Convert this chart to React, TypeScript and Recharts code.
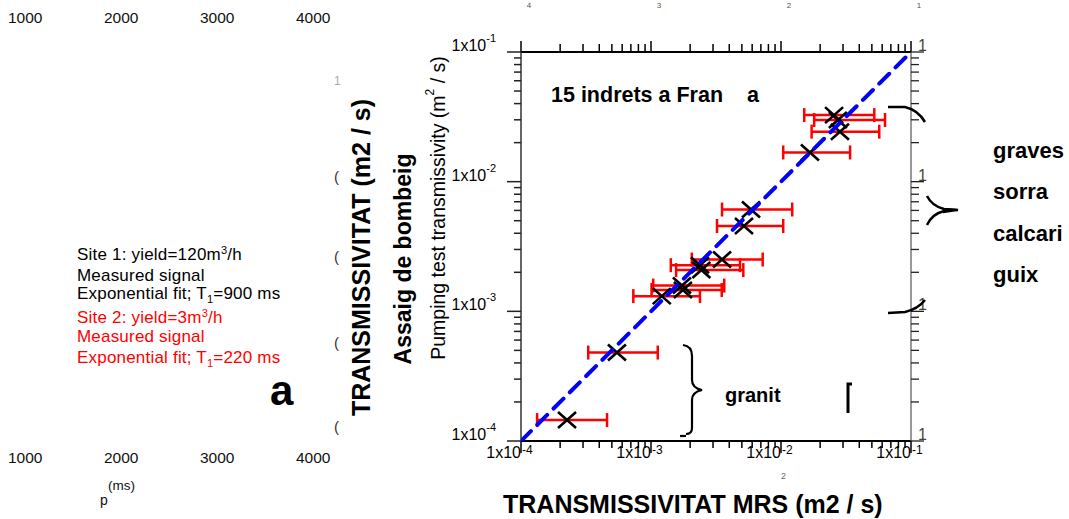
import React from "react";
import { ScatterChart, Scatter, XAxis, YAxis, ErrorBar } from "recharts";

// MRS transmissivity (x) vs pumping test transmissivity (y), m2/s
const mrsT = [2.26e-4, 5.47e-4, 1.21e-3, 1.76e-3, 1.73e-3, 2.44e-3, 2.38e-3, 3.52e-3, 5.19e-3, 5.88e-3, 1.67e-2, 2.84e-2, 2.74e-2, 2.56e-2];
const pumpT = [1.45e-4, 4.81e-4, 1.31e-3, 1.46e-3, 1.58e-3, 2.08e-3, 2.27e-3, 2.51e-3, 4.55e-3, 6.1e-3, 1.68e-2, 2.43e-2, 2.99e-2, 3.26e-2];
const mrsLow = [1.33e-4, 3.29e-4, 7.31e-4, 1.01e-3, 1.04e-3, 1.56e-3, 1.42e-3, 2.06e-3, 3.22e-3, 3.52e-3, 1.04e-2, 1.72e-2, 1.8e-2, 1.51e-2];
const mrsHigh = [4.59e-4, 1.127e-3, 2.38e-3, 3.5e-3, 3.66e-3, 5.13e-3, 4.84e-3, 7.23e-3, 1.04e-2, 1.22e-2, 3.4e-2, 5.7e-2, 6.31e-2, 5.22e-2];

// 1:1 line
const fitX = [1e-4, 1e-1];
const fitY = [1e-4, 1e-1];

const DOMAIN: [number, number] = [1e-4, 1e-1];
const decades = [-4, -3, -2];
const logTicks = [
  ...decades.flatMap((d) => [1, 2, 3, 4, 5, 6, 7, 8, 9].map((m) => m * Math.pow(10, d))),
  1e-1,
];

const leftLines = [
  "Site 1: yield=120m|3|/h",
  "Measured signal",
  "Exponential fit; T_1_=900 ms",
  "Site 2: yield=3m|3|/h",
  "Measured signal",
  "Exponential fit; T_1_=220 ms",
];
const rockLabels = ["graves", "sorra", "calcari", "guix"];
const msTicks = ["1000", "2000", "3000", "4000"];

const points = mrsT.map((x, i) => ({
  x,
  y: pumpT[i],
  err: [x - mrsLow[i], mrsHigh[i] - x],
}));
const fitData = fitX.map((x, i) => ({ x, y: fitY[i] }));

const FONT = "'Liberation Sans', Arial, sans-serif";

const isMajor = (v: number) => {
  const l = Math.log10(v);
  return Math.abs(l - Math.round(l)) < 1e-6;
};
const expOf = (v: number) => Math.round(Math.log10(v));

const BottomTick = (p: any) => {
  const { x, y, payload } = p;
  const major = isMajor(payload.value);
  return (
    <g>
      <line x1={x} y1={y} x2={x} y2={y + (major ? 12 : 7)} stroke="#000" strokeWidth={1.5} />
      {major && (
        <>
          <text x={x} y={y + 17} textAnchor="end" fontSize={16} fontFamily={FONT} fill="#000">1x10</text>
          <text x={x + 1} y={y + 13} textAnchor="start" fontSize={12} fontFamily={FONT} fill="#000">{expOf(payload.value)}</text>
        </>
      )}
    </g>
  );
};

const TopTick = (p: any) => {
  const { x, y, payload } = p;
  const major = isMajor(payload.value);
  return (
    <g>
      <line x1={x} y1={y} x2={x} y2={y - (major ? 11 : 8)} stroke="#000" strokeWidth={1.5} />
      {major && (
        <text x={x + 8} y={y - 44} textAnchor="middle" fontSize={8} fontFamily={FONT} fill="#555">
          {Math.abs(expOf(payload.value))}
        </text>
      )}
    </g>
  );
};

const LeftTick = (p: any) => {
  const { x, y, payload } = p;
  const major = isMajor(payload.value);
  return (
    <g>
      <line x1={x} y1={y} x2={x - (major ? 14 : 7)} y2={y} stroke="#222" strokeWidth={1.5} />
      {major && (
        <text x={x - 25} y={y - 1} textAnchor="end" fontSize={16} fontFamily={FONT} fill="#000">
          1x10<tspan dy={-9} fontSize={11}>{expOf(payload.value)}</tspan>
        </text>
      )}
    </g>
  );
};

const RightTick = (p: any) => {
  const { x, y, payload } = p;
  const major = isMajor(payload.value);
  return (
    <g>
      <line x1={x} y1={y} x2={x + (major ? 13 : 8)} y2={y} stroke="#222" strokeWidth={1.3} />
      {major && (
        <text x={x + 7} y={y - 1} textAnchor="start" fontSize={16} fontFamily={FONT} fill="#444">1</text>
      )}
    </g>
  );
};

const Cross = (p: any) => {
  const { cx, cy } = p;
  return (
    <g stroke="#000" strokeWidth={2.6}>
      <line x1={cx - 9} y1={cy - 8} x2={cx + 9} y2={cy + 8} />
      <line x1={cx - 9} y1={cy + 8} x2={cx + 9} y2={cy - 8} />
    </g>
  );
};

// renders "|3|" as superscript and "_1_" as subscript
const richLine = (s: string) => {
  const parts = s.split(/(\|[^|]+\||_[^_]+_)/).filter(Boolean);
  let pending = 0;
  return parts.map((part, i) => {
    if (part.startsWith("|")) {
      const dy = pending - 6;
      pending = 6;
      return <tspan key={i} dy={dy} fontSize={11}>{part.slice(1, -1)}</tspan>;
    }
    if (part.startsWith("_")) {
      const dy = pending + 4;
      pending = -4;
      return <tspan key={i} dy={dy} fontSize={11}>{part.slice(1, -1)}</tspan>;
    }
    const dy = pending;
    pending = 0;
    return <tspan key={i} dy={dy}>{part}</tspan>;
  });
};

export default function App() {
  const lineY = [260, 280.5, 299, 322.5, 342, 363];
  return (
    <div style={{ position: "absolute", left: 0, top: 0, width: 1069, height: 519, background: "#fff" }}>
      <ScatterChart width={1069} height={519} margin={{ top: 32, right: 138, bottom: 48, left: 441 }}>
        <XAxis
          xAxisId="b" dataKey="x" type="number" scale="log" domain={DOMAIN} allowDataOverflow
          ticks={logTicks} interval={0} tick={BottomTick} tickSize={0} tickMargin={0} tickLine={false}
          height={30} axisLine={{ stroke: "#000", strokeWidth: 2 }}
        />
        <XAxis
          xAxisId="t" orientation="top" dataKey="x" type="number" scale="log" domain={DOMAIN} allowDataOverflow
          ticks={logTicks} interval={0} tick={TopTick} tickSize={0} tickMargin={0} tickLine={false}
          height={20} axisLine={{ stroke: "#000", strokeWidth: 2 }}
        />
        <YAxis
          yAxisId="l" dataKey="y" type="number" scale="log" domain={DOMAIN} allowDataOverflow
          ticks={logTicks} interval={0} tick={LeftTick} tickSize={0} tickMargin={0} tickLine={false}
          width={80} axisLine={{ stroke: "#333", strokeWidth: 1.5 }}
        />
        <YAxis
          yAxisId="r" orientation="right" dataKey="y" type="number" scale="log" domain={DOMAIN} allowDataOverflow
          ticks={logTicks} interval={0} tick={RightTick} tickSize={0} tickMargin={0} tickLine={false}
          width={20} axisLine={{ stroke: "#555", strokeWidth: 1.2 }}
        />
        <Scatter xAxisId="b" yAxisId="l" data={points} shape={Cross} isAnimationActive={false}>
          <ErrorBar dataKey="err" direction="x" stroke="#ff0000" strokeWidth={2.5} width={7} isAnimationActive={false} />
        </Scatter>
        <Scatter
          xAxisId="b" yAxisId="l" data={fitData} isAnimationActive={false}
          line={{ stroke: "#0000ff", strokeWidth: 4, strokeDasharray: "14 9", strokeLinecap: "round" }}
          shape={() => <g />}
        />
      </ScatterChart>

      <svg width={1069} height={519} style={{ position: "absolute", left: 0, top: 0, pointerEvents: "none" }} fontFamily={FONT}>
        {msTicks.map((t, i) => (
          <g key={t}>
            <text x={8 + i * 96} y={23} fontSize={15.5} fill="#111">{t}</text>
            <text x={8 + i * 96} y={463} fontSize={15.5} fill="#111">{t}</text>
          </g>
        ))}
        <text x={100} y={505} fontSize={14} fill="#111">p</text>
        <text x={108} y={490} fontSize={13.5} fill="#111">(ms)</text>

        {leftLines.map((l, i) => (
          <text key={i} x={77} y={lineY[i]} fontSize={17} fill={i < 3 ? "#000" : "#ff0000"} letterSpacing={0.2}>
            {richLine(l)}
          </text>
        ))}
        <text x={270} y={405} fontSize={42} fontWeight="bold" fill="#000">a</text>

        {[182, 262, 348, 432].map((y) => (
          <text key={y} x={334} y={y} fontSize={15} fill="#333">(</text>
        ))}
        <text x={334} y={85} fontSize={12} fill="#aaa">1</text>

        <text x={370} y={257.5} transform="rotate(-90 370 257.5)" textAnchor="middle" fontSize={25} fontWeight="bold" fill="#000">
          TRANSMISSIVITAT (m2 / s)
        </text>
        <text x={411} y={259} transform="rotate(-90 411 259)" textAnchor="middle" fontSize={23} fontWeight="bold" fill="#000">
          Assaig de bombeig
        </text>
        <text x={445} y={208} transform="rotate(-90 445 208)" textAnchor="middle" fontSize={19.5} fill="#000">
          Pumping test transmissivity (m<tspan dy={-11} fontSize={12}>2</tspan><tspan dy={11}> / s)</tspan>
        </text>

        <text x={503} y={513} fontSize={25} fontWeight="bold" fill="#000">TRANSMISSIVITAT MRS (m2 / s)</text>
        <text x={781} y={479} fontSize={9} fill="#666">2</text>

        <text x={551} y={102} fontSize={21.5} fontWeight="bold" fill="#000">15 indrets a Fran</text>
        <text x={747} y={102} fontSize={21.5} fontWeight="bold" fill="#000">a</text>

        <text x={725} y={402} fontSize={20} fontWeight="bold" fill="#000">granit</text>
        {rockLabels.map((r, i) => (
          <text key={r} x={993} y={158 + i * 41.3} fontSize={22} fontWeight="bold" fill="#000">{r}</text>
        ))}

        <g stroke="#000" fill="none" strokeWidth={2.2}>
          <path d="M683,345 Q692,346 692,356 L692,380 Q692,388 702,390 Q692,392 692,400 L692,428 Q692,434 686,434" />
          <path d="M680,436 L686,436" />
          <path d="M848,413 L848,384 L852,384" strokeWidth={3} />
          <path d="M888,107 L905,107 Q918,110 925,122" strokeWidth={2.5} />
          <path d="M927,196 Q932,206 944,209 L958,210" strokeWidth={2.5} />
          <path d="M927,225 Q932,214 944,211" strokeWidth={2.5} />
          <path d="M944,209 L958,210 L944,212 Z" fill="#000" strokeWidth={2} />
          <path d="M888,313 L905,312 Q918,309 925,300" strokeWidth={2.5} />
        </g>
      </svg>
    </div>
  );
}
